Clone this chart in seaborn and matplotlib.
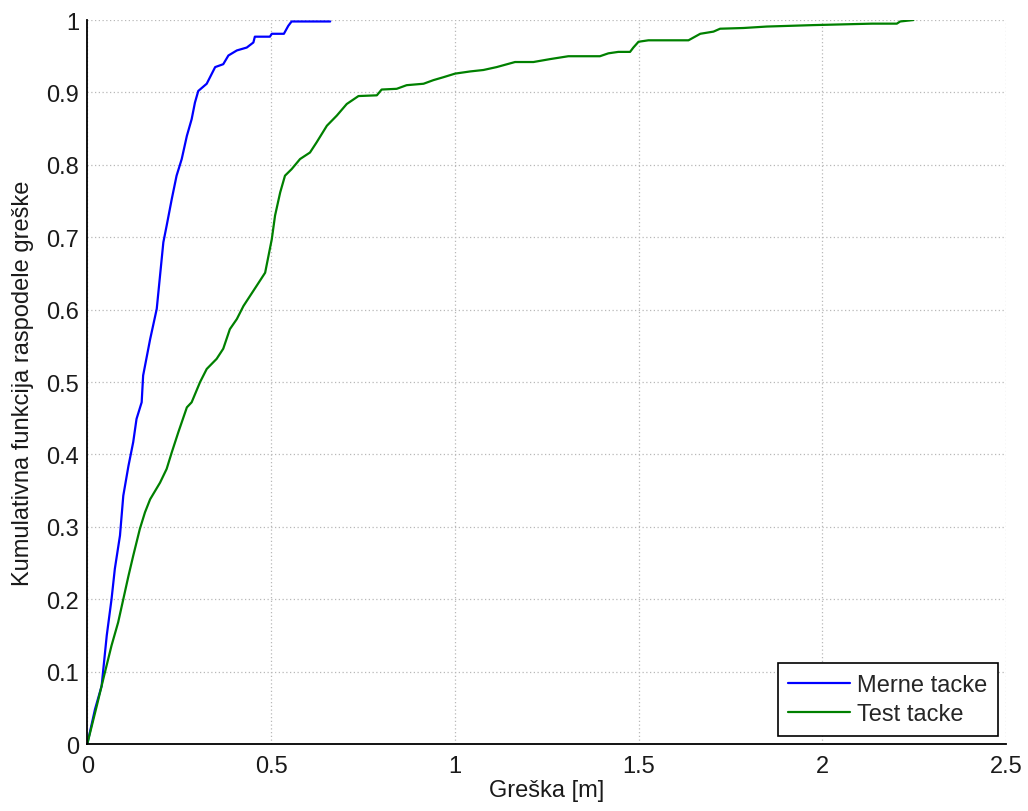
import numpy as np
import pandas as pd
import matplotlib
matplotlib.use("Agg")
import matplotlib.pyplot as plt
import seaborn as sns
from matplotlib.ticker import FuncFormatter

merne_x = [0.0, 0.021, 0.039, 0.053, 0.066, 0.075, 0.089, 0.098, 0.112, 0.125, 0.134,
           0.148, 0.152, 0.171, 0.189, 0.198, 0.207, 0.216, 0.230, 0.243, 0.257, 0.271,
           0.284, 0.293, 0.302, 0.325, 0.348, 0.370, 0.384, 0.407, 0.434, 0.452, 0.456,
           0.497, 0.502, 0.535, 0.547, 0.556, 0.661]
merne_y = [0.0, 0.048, 0.080, 0.150, 0.200, 0.242, 0.288, 0.343, 0.384, 0.417, 0.449,
           0.472, 0.509, 0.559, 0.601, 0.647, 0.693, 0.716, 0.753, 0.785, 0.808, 0.840,
           0.863, 0.886, 0.902, 0.912, 0.935, 0.939, 0.951, 0.958, 0.962, 0.969, 0.977,
           0.977, 0.981, 0.981, 0.992, 0.998, 0.998]

test_x = [0.0, 0.026, 0.048, 0.066, 0.084, 0.098, 0.112, 0.125, 0.143, 0.157, 0.171,
          0.198, 0.216, 0.230, 0.248, 0.271, 0.284, 0.307, 0.325, 0.352, 0.370, 0.388,
          0.407, 0.425, 0.443, 0.461, 0.484, 0.493, 0.502, 0.511, 0.525, 0.538, 0.556,
          0.579, 0.606, 0.624, 0.652, 0.679, 0.706, 0.738, 0.788, 0.801, 0.842, 0.869,
          0.915, 0.942, 0.969, 1.001, 1.042, 1.078, 1.114, 1.164, 1.214, 1.259, 1.309,
          1.395, 1.418, 1.445, 1.477, 1.486, 1.500, 1.527, 1.636, 1.668, 1.704, 1.722,
          1.786, 1.849, 1.976, 2.135, 2.203, 2.212, 2.248]
test_y = [0.0, 0.053, 0.099, 0.136, 0.168, 0.200, 0.232, 0.260, 0.297, 0.320, 0.338,
          0.361, 0.380, 0.403, 0.431, 0.465, 0.472, 0.500, 0.518, 0.532, 0.546, 0.573,
          0.587, 0.605, 0.619, 0.633, 0.651, 0.674, 0.697, 0.730, 0.762, 0.785, 0.794,
          0.808, 0.817, 0.831, 0.854, 0.868, 0.884, 0.895, 0.896, 0.904, 0.905, 0.910,
          0.912, 0.917, 0.921, 0.926, 0.929, 0.931, 0.935, 0.942, 0.942, 0.946, 0.950,
          0.950, 0.954, 0.956, 0.956, 0.962, 0.970, 0.972, 0.972, 0.981, 0.984, 0.988,
          0.989, 0.991, 0.993, 0.995, 0.995, 0.998, 1.000]

series_names = ["Merne tacke", "Test tacke"]
x_ticks = [0, 0.5, 1, 1.5, 2, 2.5]
y_ticks = [0, 0.1, 0.2, 0.3, 0.4, 0.5, 0.6, 0.7, 0.8, 0.9, 1.0]
x_label = "Greška [m]"
y_label = "Kumulativna funkcija raspodele greške"

df = pd.concat([
    pd.DataFrame({"x": merne_x, "y": merne_y, "serija": series_names[0]}),
    pd.DataFrame({"x": test_x, "y": test_y, "serija": series_names[1]}),
], ignore_index=True)

sns.set_style("white")
plt.rcParams["font.family"] = ["Liberation Sans", "DejaVu Sans"]

fig = plt.figure(figsize=(10.28, 8.12), dpi=100)
ax = fig.add_axes([0.0849, 0.0825, 0.8937, 0.8916])

sns.lineplot(data=df, x="x", y="y", hue="serija", sort=False, estimator=None,
             palette={series_names[0]: "#0000ff", series_names[1]: "#008000"},
             linewidth=1.6, ax=ax)

ax.set_xlim(0, 2.5)
ax.set_ylim(0, 1)
ax.set_xticks(x_ticks)
ax.set_yticks(y_ticks)
ax.xaxis.set_major_formatter(FuncFormatter(lambda v, p: f"{v:g}"))
ax.yaxis.set_major_formatter(FuncFormatter(lambda v, p: f"{v:g}"))

ax.grid(True, linestyle=(0, (1, 2)), color="#b8b8b8", linewidth=0.9)
for s in ["top", "right"]:
    ax.spines[s].set_visible(False)
for s in ["left", "bottom"]:
    ax.spines[s].set_color("black")
    ax.spines[s].set_linewidth(1.3)

ax.tick_params(axis="both", direction="in", length=6, width=1.3, color="black",
               labelsize=17, labelcolor="#1a1a1a")
ax.tick_params(axis="x", pad=8)
ax.tick_params(axis="y", pad=6)

ax.set_xlabel(x_label, fontsize=17, color="#1a1a1a", labelpad=1)
ax.set_ylabel(y_label, fontsize=17, color="#1a1a1a", labelpad=9)

leg = ax.legend(loc="lower right", fontsize=17, frameon=True, fancybox=False,
                edgecolor="black", framealpha=1, borderaxespad=0.35,
                handlelength=2.6, handletextpad=0.3, borderpad=0.45, labelspacing=0.3)
leg.get_frame().set_linewidth(1.2)
for line in leg.get_lines():
    line.set_linewidth(1.6)

fig.savefig("out.png", dpi=100)
